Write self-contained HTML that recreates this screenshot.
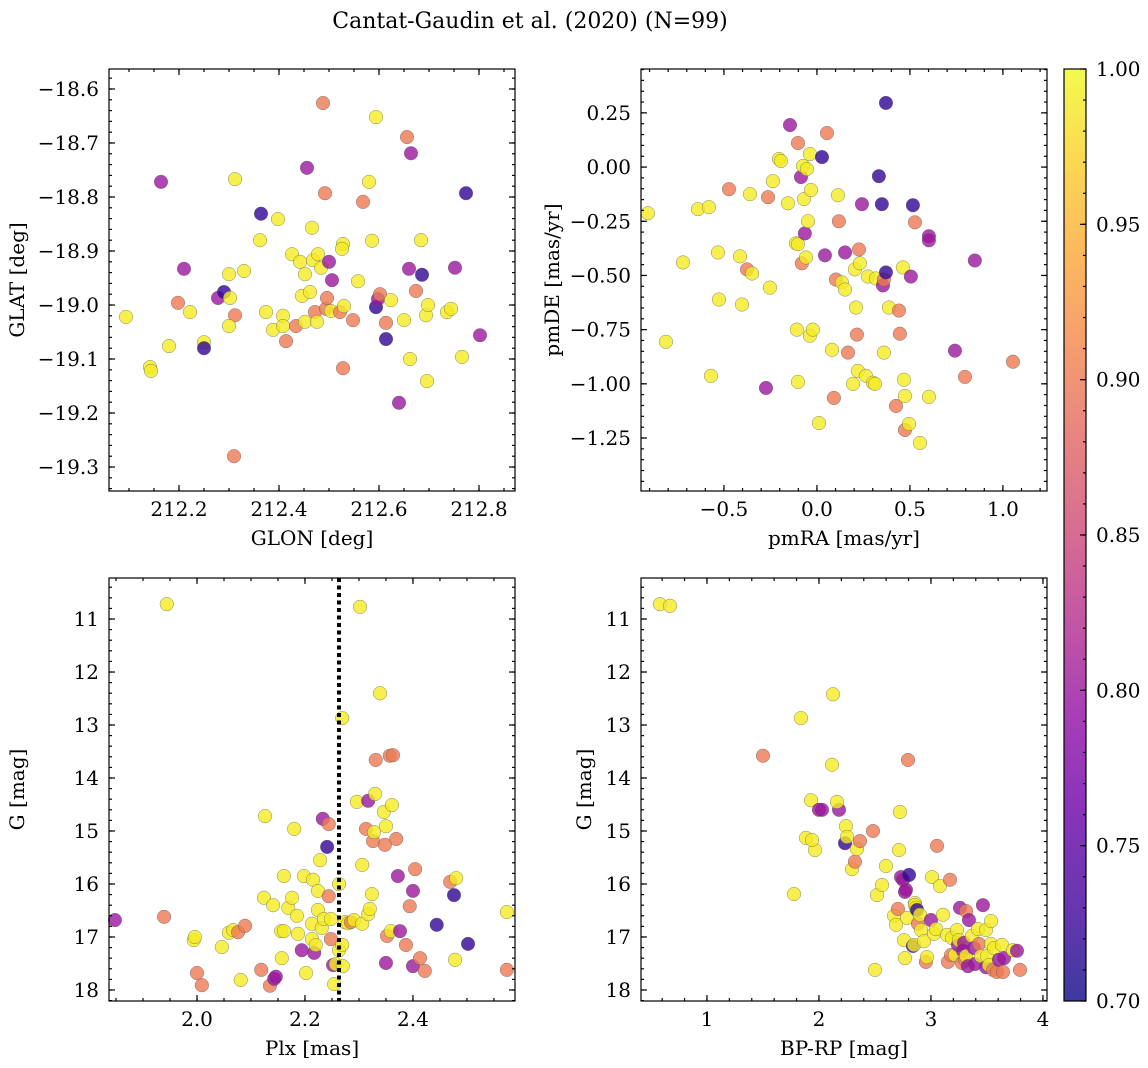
<!DOCTYPE html>
<html><head><meta charset="utf-8"><style>
html,body{margin:0;padding:0;background:#fff;}
svg{display:block;font-family:"DejaVu Serif","Liberation Serif",serif;}
</style></head><body>
<svg id="fig" width="1148" height="1068" viewBox="0 0 1148 1068" xmlns="http://www.w3.org/2000/svg">
<rect width="1148" height="1068" fill="#fff"/>
<defs>
<linearGradient id="plasma" x1="0" y1="1" x2="0" y2="0">
<stop offset="0" stop-color="#0d0887"/><stop offset="0.1" stop-color="#41049d"/><stop offset="0.2" stop-color="#6a00a8"/><stop offset="0.3" stop-color="#8f0da4"/><stop offset="0.4" stop-color="#b12a90"/><stop offset="0.5" stop-color="#cc4778"/><stop offset="0.6" stop-color="#e16462"/><stop offset="0.7" stop-color="#f2844b"/><stop offset="0.8" stop-color="#fca636"/><stop offset="0.9" stop-color="#fcce25"/><stop offset="1" stop-color="#f0f921"/>
</linearGradient>
</defs>
<text x="530" y="28" font-size="22" text-anchor="middle">Cantat-Gaudin et al. (2020) (N=99)</text>
<g id="plots"></g>
</svg>
<script>
// ---- Panel 1: GLON / GLAT ----
const p1Glon = [212.094,212.142,212.144,212.180,212.164,212.198,212.210,212.222,212.250,212.250,212.278,212.290,212.300,212.302,212.312,212.300,212.312,212.310,212.330,212.364,212.362,212.374,212.388,212.398,212.408,212.414,212.408,212.426,212.434,212.442,212.446,212.452,212.456,212.452,212.462,212.466,212.468,212.472,212.476,212.478,212.484,212.488,212.492,212.494,212.500,212.504,212.506,212.496,212.522,212.528,212.526,212.530,212.528,212.548,212.558,212.568,212.580,212.586,212.594,212.594,212.598,212.602,212.614,212.614,212.624,212.640,212.650,212.656,212.660,212.662,212.664,212.674,212.684,212.686,212.694,212.698,212.696,212.736,212.744,212.752,212.766,212.774,212.802];
const p1Glat = [-19.022,-19.115,-19.122,-19.076,-18.772,-18.996,-18.933,-19.013,-19.069,-19.080,-18.987,-18.976,-18.943,-18.987,-19.019,-19.039,-18.767,-19.280,-18.937,-18.831,-18.880,-19.013,-19.046,-18.841,-19.020,-19.067,-19.039,-18.906,-19.039,-18.920,-18.983,-18.943,-18.746,-19.031,-18.976,-18.857,-18.917,-19.013,-19.031,-18.906,-18.931,-18.626,-18.793,-19.007,-18.920,-19.011,-18.954,-18.987,-19.013,-18.887,-18.896,-19.002,-19.117,-19.028,-18.956,-18.809,-18.772,-18.881,-18.652,-19.004,-18.989,-18.980,-19.033,-19.063,-18.991,-19.181,-19.028,-18.689,-18.933,-19.100,-18.719,-18.974,-18.880,-18.944,-19.019,-19.000,-19.141,-19.013,-19.007,-18.931,-19.096,-18.793,-19.056];
const p1Prob = [0.99,0.99,0.99,0.99,0.8,0.9,0.8,0.99,0.99,0.72, 0.8,0.72,0.99,0.99,0.9,0.99,0.99,0.9,0.99,0.72, 0.99,0.99,0.99,0.99,0.99,0.9,0.99,0.99,0.9,0.99, 0.99,0.99,0.8,0.99,0.99,0.99,0.99,0.9,0.99,0.99, 0.99,0.9,0.9,0.9,0.8,0.99,0.8,0.9,0.9,0.99, 0.99,0.99,0.9,0.9,0.99,0.9,0.99,0.99,0.99,0.72, 0.8,0.9,0.9,0.72,0.99,0.8,0.99,0.9,0.8,0.99, 0.8,0.9,0.99,0.72,0.99,0.99,0.99,0.99,0.99,0.8, 0.99,0.72,0.8];
const p1XTicks = [212.2,212.4,212.6,212.8];
const p1XLabels = ["212.2","212.4","212.6","212.8"];
const p1YTicks = [-18.6,-18.7,-18.8,-18.9,-19.0,-19.1,-19.2,-19.3];
const p1YLabels = ["\u221218.6","\u221218.7","\u221218.8","\u221218.9","\u221219.0","\u221219.1","\u221219.2","\u221219.3"];

// ---- Panel 2: pmRA / pmDE ----
const p2PmRA = [-0.909,-0.812,-0.720,-0.640,-0.581,-0.570,-0.532,-0.527,-0.473,-0.414,-0.403,-0.376,-0.349,-0.360,-0.274,-0.263,-0.253,-0.237,-0.204,-0.194,-0.156,-0.145,-0.113,-0.102,-0.108,-0.102,-0.102,-0.086,-0.081,-0.075,-0.070,-0.065,-0.059,-0.054,-0.048,-0.038,-0.032,-0.022,-0.038,0.011,0.027,0.043,0.054,0.081,0.091,0.102,0.113,0.118,0.134,0.151,0.151,0.167,0.194,0.204,0.210,0.215,0.226,0.231,0.220,0.242,0.263,0.274,0.301,0.312,0.317,0.333,0.355,0.360,0.349,0.371,0.360,0.371,0.387,0.425,0.441,0.446,0.462,0.468,0.473,0.473,0.495,0.505,0.516,0.527,0.554,0.602,0.602,0.602,0.742,0.796,0.849,1.054];
const p2PmDE = [-0.213,-0.806,-0.440,-0.194,-0.185,-0.963,-0.394,-0.611,-0.102,-0.412,-0.634,-0.472,-0.491,-0.125,-1.019,-0.139,-0.556,-0.065,0.037,0.028,-0.167,0.194,-0.352,0.111,-0.750,-0.356,-0.991,-0.046,-0.444,0.005,-0.148,-0.306,-0.417,-0.009,-0.250,-0.778,-0.106,-0.750,0.060,-1.181,0.046,-0.407,0.157,-0.843,-1.065,-0.519,-0.130,-0.250,-0.532,-0.565,-0.394,-0.856,-1.000,-0.472,-0.648,-0.773,-0.380,-0.444,-0.940,-0.171,-0.963,-0.505,-0.995,-1.000,-0.514,-0.042,-0.546,-0.519,-0.171,-0.486,-0.856,0.296,-0.648,-1.102,-0.662,-0.769,-0.463,-0.981,-1.056,-1.213,-1.185,-0.505,-0.176,-0.255,-1.273,-0.319,-0.338,-1.060,-0.847,-0.968,-0.431,-0.898];
const p2Prob = [0.99,0.99,0.99,0.99,0.99,0.99,0.99,0.99,0.9,0.99, 0.99,0.9,0.99,0.99,0.8,0.9,0.99,0.99,0.99,0.99, 0.99,0.8,0.99,0.9,0.99,0.99,0.99,0.8,0.9,0.99, 0.99,0.8,0.99,0.99,0.99,0.99,0.99,0.99,0.99,0.99, 0.72,0.8,0.9,0.99,0.9,0.9,0.99,0.9,0.99,0.99, 0.8,0.9,0.99,0.99,0.99,0.9,0.9,0.99,0.99,0.8, 0.99,0.99,0.99,0.99,0.99,0.72,0.8,0.9,0.72,0.72, 0.99,0.72,0.99,0.9,0.9,0.9,0.99,0.99,0.99,0.9, 0.99,0.8,0.72,0.9,0.99,0.8,0.8,0.99,0.8,0.9, 0.8,0.9];
const p2XTicks = [-0.5,0,0.5,1.0];
const p2XLabels = ["\u22120.5","0.0","0.5","1.0"];
const p2YTicks = [0.25,0,-0.25,-0.5,-0.75,-1.0,-1.25];
const p2YLabels = ["0.25","0.00","\u22120.25","\u22120.50","\u22120.75","\u22121.00","\u22121.25"];

// ---- Panel 3: Plx / G ----
const p3Plx = [1.848,1.939,1.944,1.994,1.996,2.000,2.009,2.046,2.059,2.067,2.076,2.081,2.089,2.119,2.126,2.124,2.135,2.141,2.143,2.146,2.156,2.157,2.161,2.161,2.169,2.176,2.180,2.185,2.187,2.194,2.198,2.202,2.213,2.213,2.215,2.217,2.220,2.224,2.224,2.228,2.231,2.233,2.235,2.241,2.244,2.244,2.248,2.248,2.252,2.254,2.257,2.263,2.263,2.269,2.269,2.270,2.274,2.280,2.285,2.291,2.296,2.302,2.306,2.306,2.313,2.317,2.317,2.320,2.324,2.326,2.328,2.330,2.331,2.339,2.346,2.348,2.350,2.350,2.352,2.357,2.359,2.361,2.363,2.369,2.372,2.376,2.387,2.394,2.400,2.400,2.404,2.413,2.422,2.444,2.469,2.478,2.480,2.502,2.574,2.574,2.476];
const p3G = [16.68,16.62,10.72,17.06,17.00,17.68,17.91,17.19,16.92,16.87,16.91,17.81,16.79,17.62,14.72,16.26,17.92,16.40,17.79,17.75,16.89,17.40,15.85,16.89,16.45,16.26,14.96,16.60,16.94,17.25,15.85,17.68,16.75,17.04,15.92,17.30,17.15,16.13,16.49,15.55,16.83,14.77,16.66,15.30,14.87,16.23,16.66,17.04,17.53,17.89,17.51,17.25,16.00,12.87,17.15,17.55,16.72,16.74,16.72,16.68,14.45,10.77,15.64,16.75,14.96,16.57,14.43,16.47,16.19,15.19,15.02,14.30,13.66,12.40,14.64,15.26,14.91,17.49,16.98,13.58,16.89,14.51,13.57,15.15,15.85,16.89,17.15,16.42,17.55,16.13,15.72,17.40,17.64,16.77,15.96,17.43,15.89,17.13,16.53,17.62,16.21];
const p3Prob = [0.8,0.9,0.99,0.99,0.99,0.9,0.9,0.99,0.99,0.99, 0.9,0.99,0.9,0.9,0.99,0.99,0.9,0.99,0.8,0.8, 0.99,0.99,0.99,0.99,0.99,0.99,0.99,0.99,0.99,0.8, 0.99,0.99,0.99,0.99,0.99,0.8,0.99,0.99,0.99,0.99, 0.99,0.8,0.99,0.72,0.9,0.9,0.99,0.9,0.8,0.99, 0.99,0.99,0.99,0.99,0.99,0.99,0.99,0.99,0.9,0.99, 0.99,0.99,0.99,0.99,0.9,0.99,0.8,0.99,0.99,0.9, 0.99,0.99,0.9,0.99,0.99,0.9,0.99,0.8,0.9,0.9, 0.99,0.99,0.9,0.9,0.8,0.8,0.9,0.9,0.8,0.8, 0.9,0.9,0.9,0.72,0.9,0.99,0.99,0.72,0.99,0.9, 0.72];
const p3XTicks = [2.0,2.2,2.4];
const p3XLabels = ["2.0","2.2","2.4"];
const plxCut = [2.263];

// ---- Panel 4: BP-RP / G ----
const p4Bprp = [0.580,0.670,1.500,1.777,1.839,1.884,1.929,1.964,1.938,2.000,2.027,2.179,2.116,2.125,2.161,2.232,2.241,2.250,2.295,2.321,2.339,2.366,2.482,2.500,2.518,2.563,2.598,2.670,2.688,2.705,2.714,2.723,2.732,2.750,2.768,2.777,2.759,2.768,2.786,2.795,2.804,2.839,2.848,2.857,2.857,2.866,2.875,2.884,2.902,2.911,2.938,2.955,2.964,3.000,3.009,3.027,3.045,3.054,3.080,3.107,3.143,3.152,3.170,3.179,3.188,3.214,3.232,3.241,3.250,3.259,3.277,3.286,3.295,3.304,3.313,3.313,3.330,3.339,3.366,3.384,3.393,3.420,3.429,3.446,3.464,3.491,3.491,3.500,3.518,3.536,3.536,3.554,3.563,3.589,3.607,3.634,3.652,3.643,3.732,3.768,3.795];
const p4G = [10.72,10.75,13.58,16.19,12.87,15.13,14.42,15.36,15.17,14.60,14.60,14.60,13.75,12.42,14.45,15.23,14.91,15.11,15.72,15.58,15.34,15.19,15.00,17.62,16.21,16.02,15.66,16.60,16.77,16.47,15.36,14.64,15.87,15.92,16.15,16.11,17.06,17.40,16.64,13.66,15.83,17.17,17.15,16.36,16.40,16.45,16.49,16.75,16.58,16.87,17.08,17.47,17.38,16.68,15.87,16.94,16.85,15.28,16.04,16.58,16.96,17.47,15.92,17.34,17.02,17.34,16.87,17.15,17.06,16.45,17.49,17.26,17.11,17.43,17.36,16.51,17.55,16.68,16.98,17.21,17.51,16.85,17.13,17.36,16.40,16.87,17.57,17.36,17.53,16.70,17.13,17.62,17.21,17.66,17.43,17.15,17.40,17.66,17.25,17.26,17.62];
const p4Prob = [0.99,0.99,0.9,0.99,0.99,0.99,0.99,0.99,0.99,0.8, 0.8,0.8,0.99,0.99,0.99,0.72,0.99,0.99,0.99,0.9, 0.99,0.9,0.9,0.99,0.99,0.99,0.99,0.99,0.99,0.9, 0.99,0.99,0.8,0.8,0.8,0.8,0.99,0.99,0.99,0.9, 0.72,0.72,0.99,0.99,0.99,0.99,0.72,0.9,0.99,0.99, 0.99,0.9,0.99,0.8,0.99,0.99,0.99,0.9,0.99,0.99, 0.99,0.9,0.9,0.9,0.99,0.99,0.99,0.8,0.99,0.8, 0.9,0.8,0.8,0.9,0.99,0.9,0.8,0.8,0.99,0.8, 0.8,0.99,0.9,0.99,0.8,0.99,0.8,0.99,0.99,0.99, 0.99,0.9,0.99,0.9,0.8,0.99,0.8,0.9,0.99,0.8, 0.9];
const p4XTicks = [1,2,3,4];
const p4XLabels = ["1","2","3","4"];

const gTicks = [11,12,13,14,15,16,17,18];
const gLabels = ["11","12","13","14","15","16","17","18"];
const cbTicks = [0.70,0.75,0.80,0.85,0.90,0.95,1.00];
const cbLabels = ["0.70","0.75","0.80","0.85","0.90","0.95","1.00"];

const NS = "http://www.w3.org/2000/svg";
const FS = 20;
const root = document.getElementById("plots");
function mk(tag, attrs, parent){
  const e = document.createElementNS(NS, tag);
  for (const k in attrs) e.setAttribute(k, attrs[k]);
  (parent||root).appendChild(e);
  return e;
}
const stops = [[13,8,135],[65,4,157],[106,0,168],[143,13,164],[177,42,144],[204,71,120],[225,100,98],[242,132,75],[252,166,54],[252,206,37],[240,249,33]];
function plasma(p){
  let t = Math.max(0, Math.min(1, (p-0.7)/0.3)) * 10;
  const i = Math.min(9, Math.floor(t)), f = t - i;
  const a = stops[i], b = stops[i+1];
  return "rgb(" + [0,1,2].map(k => Math.round(a[k]+(b[k]-a[k])*f)).join(",") + ")";
}
function makeScale(d0, d1, r0, r1){ return v => r0 + (v-d0)/(d1-d0)*(r1-r0); }

function panel(name, box, xd, yd, xt, xl, xminor, yt, yl, yminor, xs, ys, cs, xlab, ylab, ylabX){
  const [L,T,R,B] = box;
  const sx = makeScale(xd[0], xd[1], L, R);
  const sy = makeScale(yd[0], yd[1], B, T);
  const g = mk("g", {});
  
  
  const pts = mk("g", {}, g);
  
  
  for (let i = 0; i < xs.length; i++){
    const c = mk("circle", {cx: sx(xs[i]), cy: sy(ys[i]), r: 6.8, fill: plasma(cs[i]), "fill-opacity": 0.8, stroke: "#555", "stroke-width": 0.5, "stroke-opacity": 0.7}, pts);
    
    
  }
  const ax = mk("g", {stroke: "#000", "stroke-width": 1.2}, g);
  
  
  const xlo = Math.min(xd[0],xd[1]), xhi = Math.max(xd[0],xd[1]);
  for (let v = Math.ceil(xlo/xminor - 1e-6)*xminor; v <= xhi + 1e-9; v += xminor){
    const x = sx(v);
    mk("line", {x1:x, y1:B, x2:x, y2:B-3}, ax); mk("line", {x1:x, y1:T, x2:x, y2:T+3}, ax);
  }
  const ylo = Math.min(yd[0],yd[1]), yhi = Math.max(yd[0],yd[1]);
  for (let v = Math.ceil(ylo/yminor - 1e-6)*yminor; v <= yhi + 1e-9; v += yminor){
    const y = sy(v);
    mk("line", {x1:L, y1:y, x2:L+3, y2:y}, ax); mk("line", {x1:R, y1:y, x2:R-3, y2:y}, ax);
  }
  xt.forEach((v, i) => {
    const x = sx(v);
    mk("line", {x1:x, y1:B, x2:x, y2:B-6}, ax); mk("line", {x1:x, y1:T, x2:x, y2:T+6}, ax);
    const t = mk("text", {x:x, y:B+25, "font-size":FS, "text-anchor":"middle", stroke:"none", fill:"#000"}, g);
    t.textContent = xl[i];
    
    
  });
  yt.forEach((v, i) => {
    const y = sy(v);
    mk("line", {x1:L, y1:y, x2:L+6, y2:y}, ax); mk("line", {x1:R, y1:y, x2:R-6, y2:y}, ax);
    const t = mk("text", {x:L-10, y:y+7, "font-size":FS, "text-anchor":"end", stroke:"none", fill:"#000"}, g);
    t.textContent = yl[i];
    
    
  });
  mk("rect", {x:L, y:T, width:R-L, height:B-T, fill:"none"}, ax);
  const xt2 = mk("text", {x:(L+R)/2, y:B+54, "font-size":FS, "text-anchor":"middle"}, g);
  xt2.textContent = xlab;
  
  
  const cy = (T+B)/2;
  const yt2 = mk("text", {x:ylabX, y:cy, "font-size":FS, "text-anchor":"middle", transform:"rotate(-90 " + ylabX + " " + cy + ")"}, g);
  yt2.textContent = ylab;
  
  
  return {sx, sy, g};
}

panel("sky", [109,69,515,491], [212.06,212.872], [-19.3444,-18.563], p1XTicks, p1XLabels, 0.05, p1YTicks, p1YLabels, 0.02, p1Glon, p1Glat, p1Prob, "GLON [deg]", "GLAT [deg]", 24);
panel("proper-motion", [641,69,1047,491], [-0.946,1.237], [-1.4945,0.4525], p2XTicks, p2XLabels, 0.1, p2YTicks, p2YLabels, 0.05, p2PmRA, p2PmDE, p2Prob, "pmRA [mas/yr]", "pmDE [mas/yr]", 559);
const P3 = panel("parallax", [109,578,515,1001], [1.837,2.589], [18.208,10.226], p3XTicks, p3XLabels, 0.05, gTicks, gLabels, 0.2, p3Plx, p3G, p3Prob, "Plx [mas]", "G [mag]", 24);
panel("cmd", [641,578,1047,1001], [0.411,4.036], [18.208,10.226], p4XTicks, p4XLabels, 0.2, gTicks, gLabels, 0.2, p4Bprp, p4G, p4Prob, "BP-RP [mag]", "G [mag]", 591);

plxCut.forEach(v => {
  const ln = mk("line", {x1:P3.sx(v), y1:578, x2:P3.sx(v), y2:1001, stroke:"#000", "stroke-width":4, "stroke-dasharray":"4 3.5"}, P3.g);
  
  
});

const cb = mk("g", {});


const cbR = mk("rect", {x:1064, y:69, width:22, height:932, fill:"url(#plasma)", "fill-opacity":0.8}, cb);


const csy = makeScale(0.70, 1.00, 1001, 69);
for (let v = 0.70; v <= 1.0001; v += 0.01){
  mk("line", {x1:1086, y1:csy(v), x2:1083, y2:csy(v), stroke:"#000", "stroke-width":1.2}, cb);
}
cbTicks.forEach((v, i) => {
  mk("line", {x1:1086, y1:csy(v), x2:1080, y2:csy(v), stroke:"#000", "stroke-width":1.2}, cb);
  const t = mk("text", {x:1096, y:csy(v)+7, "font-size":FS}, cb);
  t.textContent = cbLabels[i];
  
  
});
mk("rect", {x:1064, y:69, width:22, height:932, fill:"none", stroke:"#000", "stroke-width":1.2}, cb);
</script>
</body></html>
